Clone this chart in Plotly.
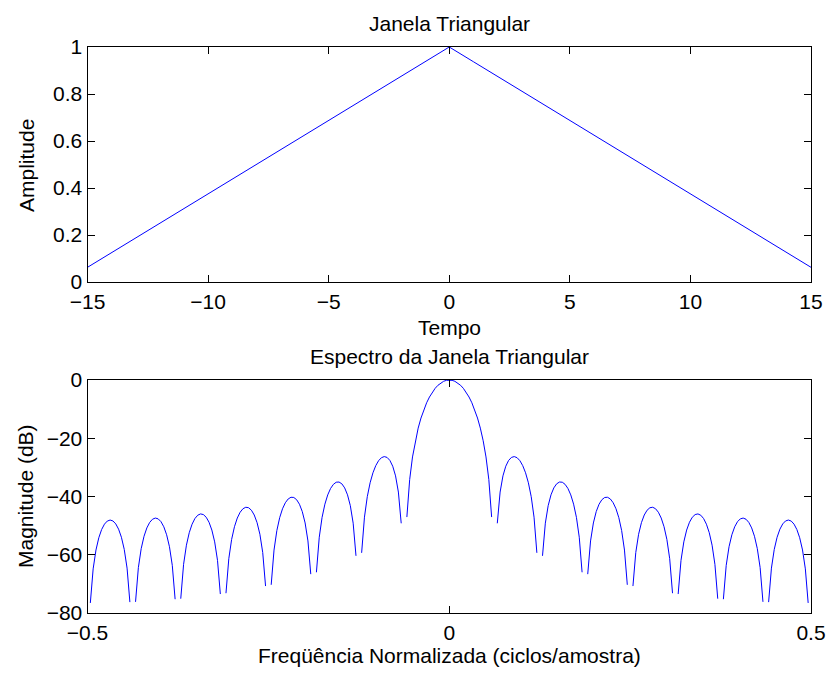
import numpy as np
import plotly.graph_objects as go

# ---- data ----
tempo = list(range(-15, 16))
janela = [0.0625, 0.125, 0.1875, 0.25, 0.3125, 0.375, 0.4375, 0.5, 0.5625, 0.625,
          0.6875, 0.75, 0.8125, 0.875, 0.9375, 1.0, 0.9375, 0.875, 0.8125, 0.75,
          0.6875, 0.625, 0.5625, 0.5, 0.4375, 0.375, 0.3125, 0.25, 0.1875, 0.125, 0.0625]
n_fft = 256

top_xticks = [-15, -10, -5, 0, 5, 10, 15]
top_yticks = [0, 0.2, 0.4, 0.6, 0.8, 1]
bot_xticks = [-0.5, 0, 0.5]
bot_yticks = [-80, -60, -40, -20, 0]

# spectrum of the window samples
W = np.fft.fftshift(np.fft.fft(np.array(janela), n_fft))
mag = np.abs(W) / np.max(np.abs(W))
freq = (np.arange(n_fft) - n_fft // 2) / n_fft
db = [None if m < 1e-9 else 20 * np.log10(m) for m in mag]

W_PX, H_PX = 831, 674
def px_x(x): return x / W_PX
def px_y(y): return 1 - y / H_PX

FONT = "Liberation Sans, Arial, sans-serif"
FS = 21

fig = go.Figure()
fig.add_trace(go.Scatter(x=tempo, y=janela, mode="lines",
                         line=dict(color="#0000ff", width=1), xaxis="x", yaxis="y",
                         showlegend=False))
fig.add_trace(go.Scatter(x=freq, y=db, mode="lines", connectgaps=False,
                         line=dict(color="#0000ff", width=1), xaxis="x2", yaxis="y2",
                         showlegend=False))

axis_common = dict(showgrid=False, zeroline=False, showline=True, linecolor="black",
                   linewidth=1, mirror="ticks", ticks="inside", ticklen=7,
                   tickcolor="black", tickwidth=1, automargin=False,
                   tickfont=dict(family=FONT, size=FS, color="black"))
xaxis_common = dict(ticklabelstandoff=1, **axis_common)
yaxis_common = dict(ticklabelstandoff=0, **axis_common)

xd = [px_x(87.5), px_x(811)]
fig.update_layout(
    width=W_PX, height=H_PX,
    margin=dict(l=0, r=0, t=0, b=0),
    paper_bgcolor="white", plot_bgcolor="white",
    xaxis=dict(domain=xd, range=[-15, 15], tickvals=top_xticks, anchor="y", **xaxis_common),
    yaxis=dict(domain=[px_y(282), px_y(47)], range=[0, 1], tickvals=top_yticks,
               ticktext=[("%g" % v) for v in top_yticks], anchor="x", **yaxis_common),
    xaxis2=dict(domain=xd, range=[-0.5, 0.5], tickvals=bot_xticks, anchor="y2", **xaxis_common),
    yaxis2=dict(domain=[px_y(613), px_y(380)], range=[-80, 0], tickvals=bot_yticks,
                anchor="x2", **yaxis_common),
)

def ann(text, x, y, angle=0):
    fig.add_annotation(text=text, x=px_x(x), y=px_y(y), xref="paper", yref="paper",
                       showarrow=False, textangle=angle,
                       xanchor="center", yanchor="middle",
                       font=dict(family=FONT, size=FS, color="black"))

ann("Janela Triangular", 449, 23)
ann("Tempo", 449, 328)
ann("Espectro da Janela Triangular", 449, 356)
ann("Freqüência Normalizada (ciclos/amostra)", 449, 655)
ann("Amplitude", 27, 165, -90)
ann("Magnitude (dB)", 25, 496, -90)

fig.write_html("out.html")
